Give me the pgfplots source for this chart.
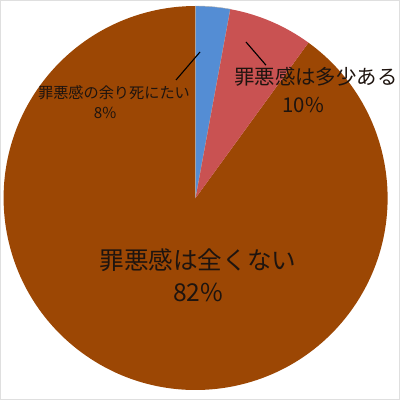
\documentclass[border=0pt]{standalone}
\usepackage{pgfplots}
\usepackage{pgfplotstable}
\usepackage{fontspec}
\setmainfont{Noto Sans CJK JP}
\pgfplotsset{compat=1.18}

\definecolor{pieblue}{RGB}{84,141,212}
\definecolor{piered}{RGB}{201,82,82}
\definecolor{piebrown}{RGB}{156,71,4}
\definecolor{labtext}{RGB}{30,20,15}

% slice sizes as drawn (percent of the circle)
\pgfplotstableread{
name value
shinitai 2.9
tashou 7.1
zenku 90
}\piedata

\begin{document}
\begin{tikzpicture}
\pgfplotstablegetelem{0}{value}\of\piedata \let\va\pgfplotsretval
\pgfplotstablegetelem{1}{value}\of\piedata \let\vb\pgfplotsretval
\pgfmathsetmacro\aA{90-3.6*\va}
\pgfmathsetmacro\aB{\aA-3.6*\vb}
\pgfmathsetmacro\aC{90-360}
\def\R{4.8}
\begin{axis}[
  x=1cm, y=1cm,
  xmin=-4.89, xmax=5.11, ymin=-5.05, ymax=4.95,
  hide axis, clip=false,
]
\coordinate (bl) at (axis cs:-4.89,-5.05);
\coordinate (tr) at (axis cs:5.11,4.95);
% faint frame
\draw[gray!25, line width=0.6pt] (axis cs:-4.88,-5.04) rectangle (axis cs:5.10,4.94);
% wedges
\fill[piebrown] (axis cs:0,0) -- (axis cs:{\R*cos(\aB)},{\R*sin(\aB)})
  arc[start angle=\aB, end angle=\aC, radius=\R cm] -- cycle;
\fill[pieblue, draw=gray!60, line width=0.3pt] (axis cs:0,0) -- (axis cs:0,\R)
  arc[start angle=90, end angle=\aA, radius=\R cm] -- cycle;
\fill[piered] (axis cs:0,0) -- (axis cs:{\R*cos(\aA)},{\R*sin(\aA)})
  arc[start angle=\aA, end angle=\aB, radius=\R cm] -- cycle;
% leader lines
\draw[black, line width=0.8pt] (axis cs:0.11,3.65) -- (axis cs:-0.49,2.95);
\draw[black, line width=0.8pt] (axis cs:1.26,3.90) -- (axis cs:1.76,3.32);
% labels
\node[labtext, font=\fontsize{17.5}{20}\selectfont] at (axis cs:0.06,-1.55) {罪悪感は全くない};
\node[labtext, font=\fontsize{17.5}{20}\selectfont] at (axis cs:0.06,-2.35) {82\%};
\node[labtext, font=\fontsize{14.5}{17}\selectfont] at (axis cs:3.01,3.02) {罪悪感は多少ある};
\node[labtext, font=\fontsize{14.5}{17}\selectfont] at (axis cs:2.69,2.33) {10\%};
\node[labtext, font=\fontsize{10.8}{13}\selectfont] at (axis cs:-2.04,2.62) {罪悪感の余り死にたい};
\node[labtext, font=\fontsize{10.8}{13}\selectfont] at (axis cs:-2.26,2.12) {8\%};
\end{axis}
\pgfresetboundingbox
\path[use as bounding box] (bl) rectangle (tr);
\end{tikzpicture}
\end{document}
